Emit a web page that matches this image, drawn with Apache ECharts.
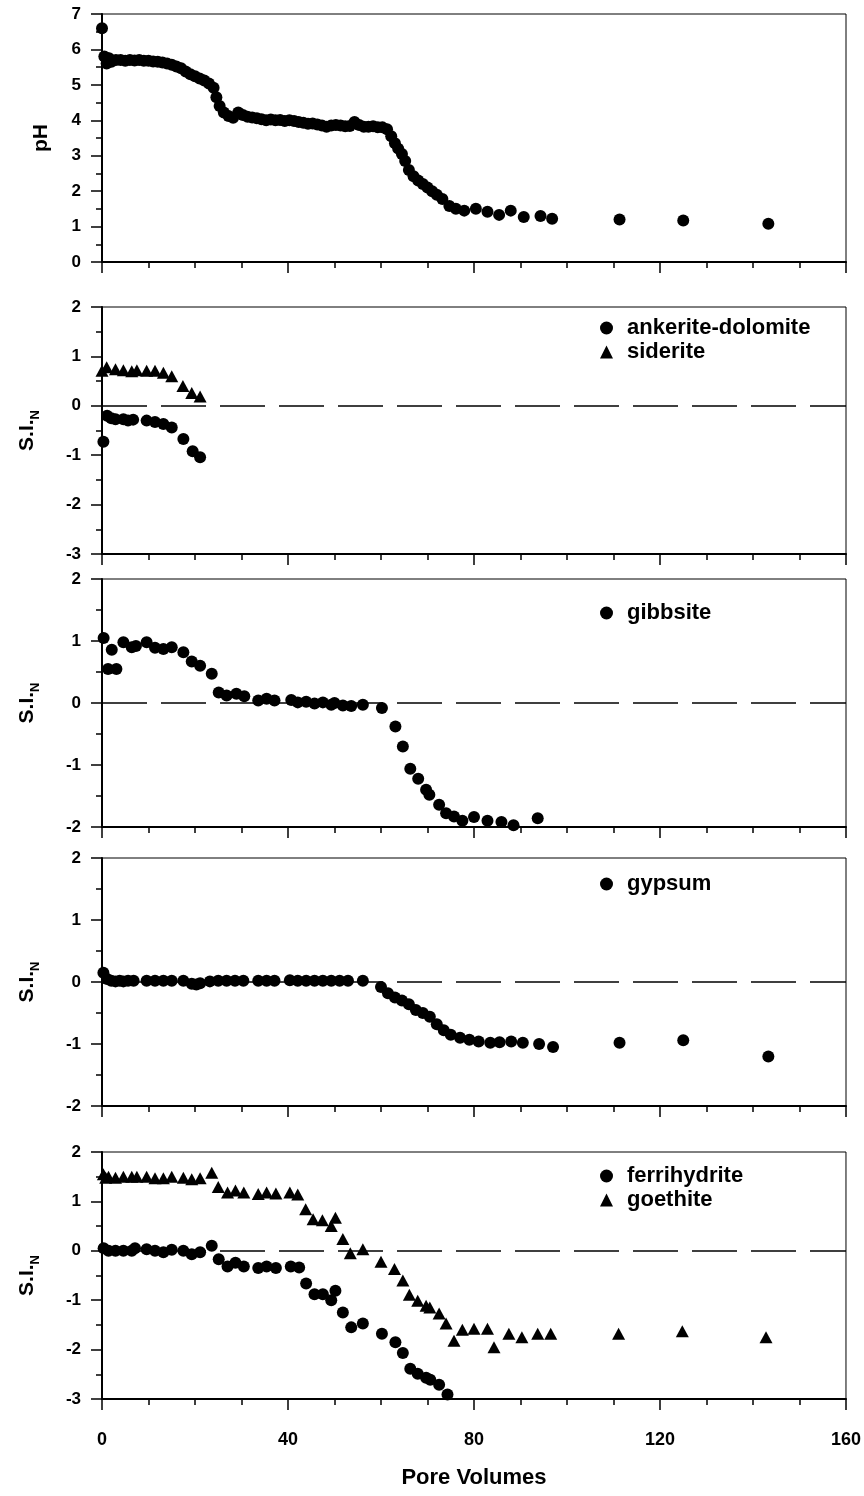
<!DOCTYPE html>
<html>
<head>
<meta charset="utf-8">
<script src="https://cdn.jsdelivr.net/npm/echarts@6/dist/echarts.min.js"></script>
<style>
  html, body { margin: 0; padding: 0; background: #fff; }
  #chart { width: 864px; height: 1496px; }
</style>
</head>
<body>
<div id="chart"></div>
<script>
// panel 1: pH
var ph = [[0, 6.6], [0.5, 5.8], [1, 5.6], [1.5, 5.75], [2, 5.65], [3, 5.7], [4, 5.7], [5, 5.68], [6, 5.7],
  [7, 5.69], [8, 5.7], [9, 5.68], [10, 5.68], [11, 5.66], [12, 5.65], [13, 5.63], [14, 5.6], [15, 5.57],
  [16, 5.52], [17, 5.47], [18, 5.38], [19, 5.3], [20, 5.24], [21, 5.18], [22, 5.12], [23, 5.04], [24, 4.92],
  [24.6, 4.65], [25.3, 4.4], [26.2, 4.22], [27.2, 4.12], [28.2, 4.07], [29.3, 4.22], [30.3, 4.15], [31.3, 4.1],
  [32.3, 4.08], [33.3, 4.06], [34.3, 4.03], [35.3, 4.0], [36.3, 4.02], [37.3, 4.0], [38.3, 4.01], [39.3, 3.98],
  [40.3, 4.0], [41.3, 3.98], [42.3, 3.95], [43.3, 3.93], [44.3, 3.9], [45.3, 3.91], [46.3, 3.88], [47.3, 3.85],
  [48.3, 3.82], [49.3, 3.85], [50.3, 3.87], [51.3, 3.85], [52.3, 3.83], [53.3, 3.84], [54.3, 3.95], [55.3, 3.87],
  [56.3, 3.82], [57.3, 3.82], [58.3, 3.83], [59.3, 3.8], [60.3, 3.8], [61.3, 3.75], [62.2, 3.55], [63, 3.35],
  [63.7, 3.2], [64.5, 3.05], [65.2, 2.85], [66, 2.6], [67, 2.42], [68, 2.3], [69, 2.2], [70, 2.1], [71, 2.0],
  [72, 1.9], [73.2, 1.78], [74.7, 1.58], [76.1, 1.5], [77.9, 1.45], [80.4, 1.5], [82.9, 1.42], [85.4, 1.33],
  [87.9, 1.45], [90.7, 1.27], [94.3, 1.3], [96.8, 1.22], [111.3, 1.2], [125, 1.17], [143.3, 1.08]];

// panel 2
var ankerite = [[0.3, -0.73], [1.1, -0.2], [2.0, -0.25], [2.9, -0.27], [4.6, -0.27], [5.6, -0.3], [6.7, -0.28],
  [9.6, -0.3], [11.4, -0.33], [13.2, -0.37], [15, -0.44], [17.5, -0.67], [19.5, -0.92], [21.1, -1.04]];
var siderite = [[0, 0.71], [1, 0.78], [2.9, 0.74], [4.6, 0.72], [6.4, 0.7], [7.5, 0.72], [9.6, 0.71],
  [11.4, 0.71], [13.2, 0.67], [15, 0.6], [17.4, 0.4], [19.3, 0.26], [21.1, 0.19]];

// panel 3
var gibbsite = [[0.35, 1.05], [1.3, 0.55], [2.1, 0.86], [3.1, 0.55], [4.6, 0.98], [6.4, 0.9], [7.3, 0.92],
  [9.6, 0.98], [11.4, 0.89], [13.2, 0.87], [15, 0.9], [17.5, 0.82], [19.3, 0.67], [21.1, 0.6], [23.6, 0.47],
  [25.1, 0.17], [26.8, 0.12], [28.9, 0.15], [30.6, 0.11], [33.6, 0.04], [35.4, 0.07], [37.1, 0.04], [40.7, 0.05],
  [42.1, 0.01], [43.9, 0.02], [45.7, -0.01], [47.5, 0.01], [49.3, -0.03], [50, 0.0], [51.8, -0.04], [53.6, -0.05],
  [56.1, -0.03], [60.2, -0.08], [63.1, -0.38], [64.7, -0.7], [66.3, -1.06], [68, -1.22], [69.7, -1.4],
  [70.4, -1.48], [72.5, -1.64], [74, -1.78], [75.7, -1.83], [77.5, -1.9], [80, -1.84], [82.9, -1.9],
  [85.9, -1.92], [88.5, -1.97], [93.7, -1.86]];

// panel 4
var gypsum = [[0.3, 0.15], [1.1, 0.05], [2.0, 0.02], [2.9, 0.01], [3.8, 0.02], [4.6, 0.01], [5.6, 0.02], [6.8, 0.02],
  [9.6, 0.02], [11.4, 0.02], [13.2, 0.02], [15, 0.02], [17.5, 0.02], [19.3, -0.03], [20.3, -0.04], [21.1, -0.02],
  [23.2, 0.01], [25, 0.02], [26.8, 0.02], [28.6, 0.02], [30.4, 0.02], [33.6, 0.02], [35.4, 0.02], [37.1, 0.02],
  [40.4, 0.03], [42.1, 0.02], [43.9, 0.02], [45.7, 0.02], [47.5, 0.02], [49.3, 0.02], [51.1, 0.02], [52.9, 0.02],
  [56.1, 0.02], [60, -0.08], [61.5, -0.18], [63, -0.25], [64.5, -0.3], [66, -0.36], [67.5, -0.45], [69, -0.5],
  [70.5, -0.56], [72, -0.68], [73.5, -0.78], [75, -0.85], [77, -0.9], [79, -0.93], [81, -0.96], [83.5, -0.98],
  [85.5, -0.97], [88, -0.96], [90.5, -0.98], [94, -1.0], [97, -1.05], [111.3, -0.98], [125, -0.94], [143.3, -1.2]];

// panel 5
var ferrihydrite = [[0.35, 0.05], [1.4, 0.0], [2.9, 0.0], [4.6, 0.0], [6.4, 0.0], [7.1, 0.05], [9.6, 0.03],
  [11.4, 0.0], [13.2, -0.03], [15, 0.02], [17.5, 0.0], [19.3, -0.07], [21.1, -0.03], [23.6, 0.1], [25.1, -0.17],
  [27, -0.32], [28.7, -0.24], [30.5, -0.32], [33.6, -0.35], [35.4, -0.32], [37.4, -0.35], [40.6, -0.32],
  [42.4, -0.34], [43.9, -0.66], [45.7, -0.88], [47.5, -0.88], [49.3, -1.0], [50.2, -0.81], [51.8, -1.25],
  [53.6, -1.55], [56.1, -1.47], [60.2, -1.68], [63.1, -1.85], [64.7, -2.07], [66.3, -2.39], [67.9, -2.49],
  [69.7, -2.57], [70.6, -2.61], [72.5, -2.71], [74.3, -2.91]];
var goethite = [[0.3, 1.55], [0.8, 1.48], [1.4, 1.5], [2.9, 1.48], [4.6, 1.5], [6.4, 1.5], [7.5, 1.5], [9.6, 1.5],
  [11.4, 1.47], [13.2, 1.47], [15, 1.5], [17.5, 1.48], [19.3, 1.45], [21.1, 1.47], [23.6, 1.58], [25, 1.29],
  [27, 1.18], [28.7, 1.22], [30.5, 1.18], [33.6, 1.15], [35.4, 1.18], [37.4, 1.16], [40.4, 1.18], [42.1, 1.14],
  [43.8, 0.84], [45.4, 0.64], [47.4, 0.62], [49.3, 0.5], [50.2, 0.67], [51.8, 0.24], [53.4, -0.05], [56.1, 0.03],
  [60, -0.22], [62.9, -0.37], [64.7, -0.6], [66.1, -0.89], [67.9, -1.01], [69.7, -1.11], [70.5, -1.15],
  [72.5, -1.27], [74, -1.47], [75.7, -1.82], [77.5, -1.6], [80, -1.58], [82.9, -1.58], [84.3, -1.95],
  [87.5, -1.68], [90.3, -1.75], [93.7, -1.68], [96.5, -1.68], [111.1, -1.68], [124.8, -1.63], [142.8, -1.75]];

var FONT = "'Liberation Sans', Arial, sans-serif";
var myChart = echarts.init(document.getElementById('chart'));

// panel boxes (top, height) in px
var panels = [
  {top: 14, height: 248, min: 0, max: 7, name: 'pH', gap: 50},
  {top: 307, height: 247, min: -3, max: 2, name: '{m|S.I.}{s|N}', gap: 60},
  {top: 579, height: 248, min: -2, max: 2, name: '{m|S.I.}{s|N}', gap: 60},
  {top: 858, height: 248, min: -2, max: 2, name: '{m|S.I.}{s|N}', gap: 60},
  {top: 1152, height: 247, min: -3, max: 2, name: '{m|S.I.}{s|N}', gap: 60}
];

var tickStyle = {color: '#000', width: 1.5};
var grids = [], xAxes = [], yAxes = [];
panels.forEach(function (p, i) {
  grids.push({left: 102, right: 18, top: p.top, height: p.height, show: true, borderColor: '#000', borderWidth: 1});
  xAxes.push({
    gridIndex: i, type: 'value', min: 0, max: 160, interval: 40,
    name: i === 4 ? 'Pore Volumes' : '', nameLocation: 'middle', nameGap: 68,
    nameTextStyle: {color: '#000', fontSize: 22, fontWeight: 'bold', fontFamily: FONT},
    axisLine: {show: true, onZero: false, lineStyle: {color: '#000', width: 2}},
    axisTick: {show: true, length: 11, lineStyle: tickStyle},
    minorTick: {show: true, splitNumber: 4, length: 6, lineStyle: tickStyle},
    splitLine: {show: false},
    axisLabel: {show: i === 4, color: '#000', fontSize: 18, fontWeight: 'bold', margin: 32, fontFamily: FONT}
  });
  yAxes.push({
    gridIndex: i, type: 'value', min: p.min, max: p.max, interval: 1,
    name: p.name, nameLocation: 'middle', nameGap: p.gap,
    nameTextStyle: {
      color: '#000', fontSize: 21, fontWeight: 'bold', fontFamily: FONT,
      rich: {
        m: {fontSize: 21, fontWeight: 'bold', fontFamily: FONT, color: '#000', lineHeight: 30, verticalAlign: 'middle'},
        s: {fontSize: 13, fontWeight: 'bold', fontFamily: FONT, color: '#000', lineHeight: 30, verticalAlign: 'bottom'}
      }
    },
    axisLine: {show: true, onZero: false, lineStyle: {color: '#000', width: 2}},
    axisTick: {show: true, length: 11, lineStyle: tickStyle},
    minorTick: {show: true, splitNumber: 2, length: 6, lineStyle: tickStyle},
    splitLine: {show: false},
    axisLabel: {color: '#000', fontSize: 17, fontWeight: 'bold', margin: 21, fontFamily: FONT}
  });
});

// dashed zero reference line
var zeroMark = {
  silent: true, symbol: 'none', label: {show: false}, animation: false,
  lineStyle: {color: '#000', width: 1.5, type: [45, 14], opacity: 1},
  emphasis: {disabled: true},
  data: [{yAxis: 0}]
};

function dots(name, data, gi, shape, withZero) {
  var s = {
    name: name, type: 'scatter', xAxisIndex: gi, yAxisIndex: gi, data: data,
    symbol: shape, symbolSize: shape === 'triangle' ? [13, 12] : 12, clip: false, z: 3,
    itemStyle: {color: '#000', opacity: 1}
  };
  if (withZero) s.markLine = zeroMark;
  return s;
}

var legendText = {color: '#000', fontSize: 22, fontWeight: 'bold', fontFamily: FONT, lineHeight: 22, padding: [0, 0, 0, 9]};
function legendAt(top, names) {
  return {
    data: names, orient: 'vertical', left: 600, top: top, padding: 0, itemGap: 2,
    itemWidth: 13, itemHeight: 13, selectedMode: false, textStyle: legendText
  };
}

var option = {
  animation: false,
  backgroundColor: '#fff',
  grid: grids,
  xAxis: xAxes,
  yAxis: yAxes,
  legend: [
    legendAt(317, ['ankerite-dolomite', 'siderite']),
    legendAt(602, ['gibbsite']),
    legendAt(873, ['gypsum']),
    legendAt(1165, ['ferrihydrite', 'goethite'])
  ],
  series: [
    dots('pH', ph, 0, 'circle', false),
    dots('ankerite-dolomite', ankerite, 1, 'circle', true), dots('siderite', siderite, 1, 'triangle', false),
    dots('gibbsite', gibbsite, 2, 'circle', true),
    dots('gypsum', gypsum, 3, 'circle', true),
    dots('ferrihydrite', ferrihydrite, 4, 'circle', true), dots('goethite', goethite, 4, 'triangle', false)
  ]
};
myChart.setOption(option);
</script>
</body>
</html>
